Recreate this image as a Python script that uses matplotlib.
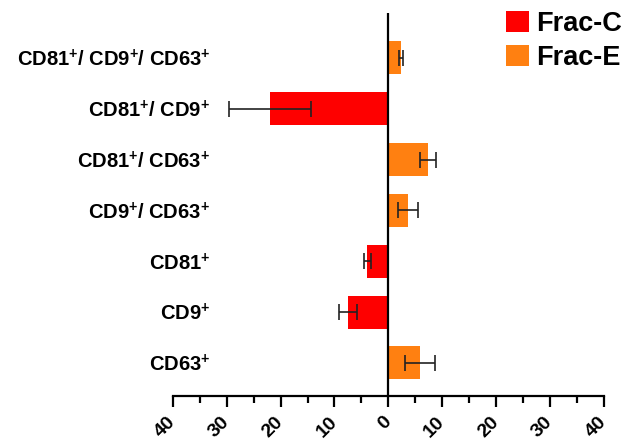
import matplotlib
matplotlib.use("Agg")
import matplotlib.pyplot as plt
from matplotlib.ticker import MultipleLocator, FuncFormatter
import numpy as np

plt.rcParams['font.family'] = ['Liberation Sans', 'DejaVu Sans']
plt.rcParams['font.weight'] = 'bold'
plt.rcParams['mathtext.fontset'] = 'custom'
plt.rcParams['mathtext.rm'] = 'Liberation Sans:bold'
plt.rcParams['mathtext.bf'] = 'Liberation Sans:bold'
plt.rcParams['mathtext.it'] = 'Liberation Sans:bold'

# categories from bottom to top
categories = ['CD63$^{+}$', 'CD9$^{+}$', 'CD81$^{+}$', 'CD9$^{+}$/ CD63$^{+}$',
              'CD81$^{+}$/ CD63$^{+}$', 'CD81$^{+}$/ CD9$^{+}$',
              'CD81$^{+}$/ CD9$^{+}$/ CD63$^{+}$']
# signed values: negative = Frac-C (left), positive = Frac-E (right)
values = [5.8, -7.5, -3.9, 3.7, 7.4, -21.9, 2.4]
errors = [2.8, 1.65, 0.6, 1.85, 1.5, 7.6, 0.35]
series = ['Frac-E', 'Frac-C', 'Frac-C', 'Frac-E', 'Frac-E', 'Frac-C', 'Frac-E']
legend_labels = ['Frac-C', 'Frac-E']
colors = {'Frac-C': '#FE0000', 'Frac-E': '#FF8011'}
xticks = [-40, -30, -20, -10, 0, 10, 20, 30, 40]

fig = plt.figure(figsize=(6.29, 4.44), dpi=100)
ax = fig.add_axes([0.2746, 0.1081, 0.9603 - 0.2746, 0.9714 - 0.1081])

y = np.arange(len(categories))
for s in legend_labels:
    idx = [i for i in range(len(values)) if series[i] == s]
    ax.barh(y[idx], [values[i] for i in idx], height=0.65, color=colors[s],
            label=s, zorder=2)
ax.errorbar(values, y, xerr=errors, fmt='none', ecolor='#222222',
            elinewidth=1.2, capsize=6, capthick=1.2, zorder=3)

ax.axvline(0, color='black', lw=1.6, zorder=4)
ax.set_xlim(-40, 40)
ax.set_ylim(-0.65, 6.89)

for sp in ['top', 'right', 'left']:
    ax.spines[sp].set_visible(False)
ax.spines['bottom'].set_linewidth(1.6)

ax.set_xticks(xticks)
ax.xaxis.set_minor_locator(MultipleLocator(5))
ax.xaxis.set_major_formatter(FuncFormatter(lambda v, p: f"{abs(int(round(v)))}"))
ax.tick_params(axis='x', which='major', length=7.7, width=1.6, pad=9,
               labelsize=14)
ax.tick_params(axis='x', which='minor', length=4.8, width=1.6)
plt.setp(ax.get_xticklabels(), rotation=45, ha='right', va='center',
         rotation_mode='anchor', fontweight='bold')

ax.set_yticks(y)
ax.set_yticklabels(categories, fontsize=14.5, fontweight='bold')
ax.tick_params(axis='y', length=0, pad=-27)

leg = fig.legend(loc='upper left', bbox_to_anchor=(0.805, 0.975),
                 frameon=False, fontsize=19.5, handlelength=0.82,
                 handleheight=0.82, handletextpad=0.28, labelspacing=0.3,
                 borderpad=0, borderaxespad=0)
for t in leg.get_texts():
    t.set_fontweight('bold')

fig.savefig('out.png', dpi=100)
